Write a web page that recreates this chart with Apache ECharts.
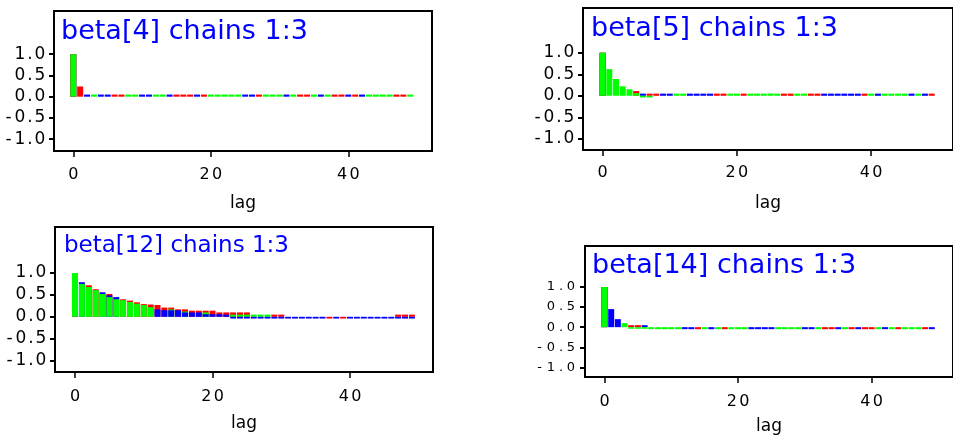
<!DOCTYPE html>
<html>
<head>
<meta charset="utf-8">
<script src="https://cdn.jsdelivr.net/npm/echarts@6/dist/echarts.min.js"></script>
<style>
html, body { margin: 0; padding: 0; background: #fff; }
#chart { width: 953px; height: 436px; }
</style>
</head>
<body>
<div id="chart"></div>
<script>
var lags = [];
for (var i = 0; i < 50; i++) lags.push(i);

var yTicks = [-1, -0.5, 0, 0.5, 1];
var xTicks = [0, 20, 40];

// autocorrelation per lag, chain 1 (blue), chain 2 (red), chain 3 (green)
var b4Blue = [
  1, 0, .05, 0, .05, .05, 0, 0, 0, 0,
  .05, .05, 0, 0, .05, 0, 0, 0, .05, 0,
  0, 0, 0, 0, 0, .05, .05, 0, 0, 0,
  0, .05, 0, 0, 0, 0, .05, 0, 0, 0,
  .05, 0, .05, 0, 0, 0, 0, 0, 0, 0];
var b4Red = [
  1, .24, 0, 0, 0, 0, .05, .05, 0, 0,
  0, 0, 0, 0, 0, .05, .05, .05, 0, .05,
  0, 0, 0, 0, 0, 0, 0, .05, 0, 0,
  0, 0, 0, .05, .05, 0, 0, 0, .05, .05,
  0, .05, 0, 0, 0, 0, 0, .05, .05, 0];
var b4Green = [
  1, 0, 0, .05, 0, 0, 0, 0, .05, .05,
  0, 0, .05, .05, 0, 0, 0, 0, 0, 0,
  .05, .05, .05, .05, .05, 0, 0, 0, .05, .05,
  .05, 0, .05, 0, 0, .05, 0, .05, 0, 0,
  0, 0, 0, .05, .05, .05, .05, 0, 0, .05];

var b5Blue = [
  1, 0, 0, 0, 0, 0, .05, 0, 0, .05,
  .05, 0, 0, .05, .05, .05, .05, 0, 0, 0,
  0, 0, 0, 0, 0, 0, 0, 0, 0, 0,
  0, 0, 0, .05, .05, .05, .05, .05, .05, 0,
  0, .05, 0, 0, 0, 0, .05, 0, .05, 0];
var b5Red = [
  1, 0, 0, 0, 0, .11, 0, .05, .05, 0,
  0, 0, 0, 0, 0, 0, 0, .05, .05, 0,
  0, .05, 0, 0, 0, 0, 0, .05, .05, 0,
  0, .05, .05, 0, 0, 0, 0, 0, 0, .05,
  0, 0, 0, 0, 0, 0, 0, 0, 0, .05];
var b5Green = [
  1, .62, .39, .22, .15, .06, -.04, -.04, 0, 0,
  0, .05, .05, 0, 0, 0, 0, 0, 0, .05,
  .05, 0, .05, .05, .05, .05, .05, 0, 0, .05,
  .05, 0, 0, 0, 0, 0, 0, 0, 0, 0,
  .05, 0, .05, .05, .05, .05, 0, .05, 0, 0];

var b12Blue = [
  1, .79, 0, 0, .56, .49, .45, 0, 0, 0,
  0, 0, .17, .15, .15, .15, .10, .10, .10, .06,
  .06, .06, .05, -.04, -.04, -.04, -.04, -.04, -.04, -.04,
  -.04, -.04, -.04, -.04, -.04, -.04, -.04, 0, -.04, 0,
  -.04, -.04, -.04, -.04, -.04, -.04, -.04, -.04, -.04, -.04];
var b12Red = [
  1, 0, .72, .63, 0, .52, 0, .40, .37, .33,
  .29, .28, .27, .21, .21, .17, .17, .14, .14, .14,
  .14, .10, .10, .10, .10, .10, 0, 0, 0, .05,
  .05, 0, 0, 0, 0, 0, 0, -.04, 0, -.04,
  0, 0, 0, 0, 0, 0, 0, .05, .05, .05];
var b12Green = [
  1, .75, .68, .61, .52, .45, .40, .38, .34, .30,
  .27, .22, 0, 0, .17, 0, .12, 0, 0, .10,
  0, 0, 0, .05, .05, .05, .05, .05, .05, 0,
  0, 0, 0, 0, 0, 0, 0, 0, 0, 0,
  0, 0, 0, 0, 0, 0, 0, 0, 0, 0];

var b14Blue = [
  1, .45, .20, 0, 0, 0, .05, 0, 0, 0,
  0, 0, -.05, -.05, 0, 0, -.05, 0, 0, 0,
  0, 0, -.05, -.05, -.05, -.05, 0, 0, 0, 0,
  -.05, -.05, 0, 0, 0, -.05, 0, 0, -.05, 0,
  0, 0, -.05, 0, 0, 0, 0, 0, 0, -.05];
var b14Red = [
  1, 0, 0, 0, .05, .05, 0, 0, 0, 0,
  0, 0, 0, 0, -.05, 0, 0, 0, -.05, 0,
  0, 0, 0, 0, 0, 0, 0, 0, 0, 0,
  0, 0, 0, -.05, -.05, 0, 0, -.05, 0, -.05,
  -.05, 0, 0, 0, -.05, 0, 0, 0, -.05, 0];
var b14Green = [
  1, 0, 0, .10, -.04, -.04, -.04, -.05, -.05, -.05,
  -.05, -.05, 0, 0, 0, -.05, 0, -.05, 0, -.05,
  -.05, -.05, 0, 0, 0, 0, -.05, -.05, -.05, -.05,
  0, 0, -.05, 0, 0, 0, -.05, 0, 0, 0,
  0, -.05, 0, -.05, 0, -.05, -.05, -.05, 0, 0];

var titles = ['beta[4] chains 1:3', 'beta[5] chains 1:3', 'beta[12] chains 1:3', 'beta[14] chains 1:3'];
var chains = [
  [b4Blue, b4Red, b4Green],
  [b5Blue, b5Red, b5Green],
  [b12Blue, b12Red, b12Green],
  [b14Blue, b14Red, b14Green]
];
var chainColors = ['#0000ff', '#ff0000', '#00ff00'];

// panel boxes and axis extents
var layout = [
  {left: 54, top: 11, width: 378, height: 140, ymin: -1.278, ymax: 2.016, xmin: -2.81, xmax: 52.17,
   tx: 61, ty: 18, tsize: 27, ysize: 17, labGap: 16, nameGap: 44},
  {left: 583, top: 8, width: 378, height: 142, ymin: -1.26, ymax: 2.04, xmin: -2.92, xmax: 52.18,
   tx: 591, ty: 15, tsize: 27, ysize: 17, labGap: 15, nameGap: 45},
  {left: 55, top: 227, width: 378, height: 145, ymin: -1.26, ymax: 2.05, xmin: -2.91, xmax: 52.07,
   tx: 64, ty: 235, tsize: 23, ysize: 17, labGap: 17, nameGap: 43},
  {left: 585, top: 246, width: 378, height: 131, ymin: -1.24, ymax: 2.02, xmin: -2.92, xmax: 52.18,
   tx: 592, ty: 252, tsize: 27, ysize: 13, labGap: 17, nameGap: 41}
];

var FONT = '"DejaVu Sans", "Liberation Sans", sans-serif';

function spaced(str) {
  var out = '';
  for (var i = 0; i < str.length; i++) {
    var ch = str.charAt(i);
    var key = ch === '.' ? 'p' : (ch === '-' ? 'm' : 'd');
    out += '{' + key + '|' + ch + '}';
  }
  return out;
}

function richFor(size, digitW) {
  return {
    d: {width: digitW, align: 'center', fontSize: size, fontFamily: FONT, color: '#000'},
    p: {width: 6, align: 'center', fontSize: size, fontFamily: FONT, color: '#000'},
    m: {width: 9, align: 'center', fontSize: size, fontFamily: FONT, color: '#000'}
  };
}

var option = {
  backgroundColor: '#fff',
  animation: false,
  title: [],
  grid: [],
  xAxis: [],
  yAxis: [],
  series: []
};

layout.forEach(function (p, k) {
  option.title.push({
    text: titles[k],
    left: p.tx,
    top: p.ty,
    padding: 0,
    textStyle: {color: '#0000ff', fontFamily: FONT, fontSize: p.tsize, fontWeight: 'normal'}
  });
  option.grid.push({
    left: p.left, top: p.top, width: p.width, height: p.height,
    show: true, borderColor: '#000', borderWidth: 2, backgroundColor: 'transparent'
  });
  option.xAxis.push({
    type: 'value', gridIndex: k, min: p.xmin, max: p.xmax,
    name: 'lag', nameLocation: 'middle', nameGap: p.nameGap,
    nameTextStyle: {fontFamily: FONT, fontSize: 17, color: '#000'},
    axisLine: {show: false, onZero: false},
    splitLine: {show: false},
    axisTick: {show: true, length: 6, customValues: xTicks, lineStyle: {color: '#000', width: 1.5}},
    axisLabel: {
      customValues: xTicks, margin: p.labGap,
      fontSize: 16, fontFamily: FONT, color: '#000',
      formatter: function (v) { return spaced(String(v)); },
      rich: richFor(16, 12.5)
    }
  });
  option.yAxis.push({
    type: 'value', gridIndex: k, min: p.ymin, max: p.ymax,
    axisLine: {show: false, onZero: false},
    splitLine: {show: false},
    axisTick: {show: true, inside: false, length: 5, customValues: yTicks, lineStyle: {color: '#000', width: 2}},
    axisLabel: {
      customValues: yTicks, margin: 7,
      fontSize: p.ysize, fontFamily: FONT, color: '#000',
      formatter: function (v) { return spaced(v.toFixed(1)); },
      rich: richFor(p.ysize, 14)
    }
  });

  // bars at each lag drawn tallest first so the shorter chains stay visible
  var layers = [[], [], []];
  lags.forEach(function (lag, j) {
    var items = chains[k].map(function (arr, c) {
      return {v: arr[j], color: chainColors[c]};
    });
    items.sort(function (a, b) { return Math.abs(b.v) - Math.abs(a.v); });
    items.forEach(function (it, n) {
      layers[n].push({value: [lag, it.v], itemStyle: {color: it.color}});
    });
  });
  layers.forEach(function (data) {
    option.series.push({
      type: 'bar', xAxisIndex: k, yAxisIndex: k,
      barWidth: 6, barGap: '-100%',
      data: data
    });
  });
});

var myChart = echarts.init(document.getElementById('chart'));
myChart.setOption(option);
</script>
</body>
</html>
